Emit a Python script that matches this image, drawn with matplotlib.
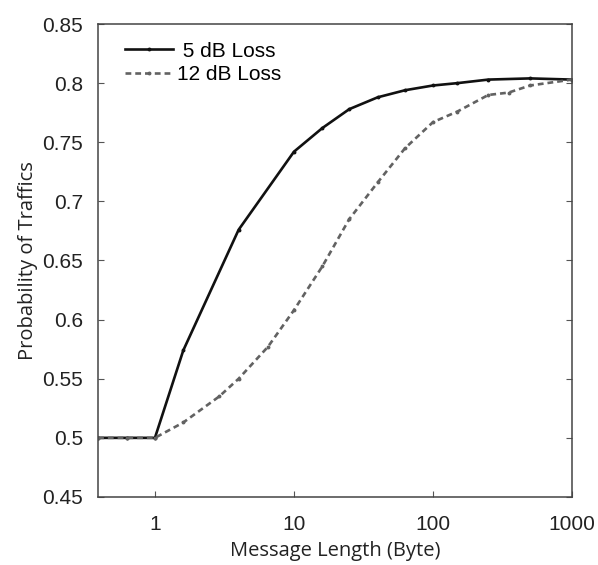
import matplotlib
matplotlib.use("Agg")
import matplotlib.pyplot as plt

# Data
x_5db = [0.39, 0.63, 1, 1.6, 4, 10, 16, 25, 40, 63, 100, 150, 250, 500, 1000]
y_5db = [0.5, 0.5, 0.5, 0.574, 0.676, 0.742, 0.762, 0.778, 0.788, 0.794, 0.798, 0.800, 0.803, 0.804, 0.803]

x_12db = [0.39, 0.63, 1, 1.6, 2.9, 4, 6.5, 10, 16, 25, 40, 63, 100, 150, 250, 350, 500, 1000]
y_12db = [0.5, 0.5, 0.5, 0.513, 0.535, 0.55, 0.577, 0.608, 0.645, 0.685, 0.716, 0.745, 0.767, 0.776, 0.790, 0.792, 0.798, 0.803]

series_labels = [" 5 dB Loss", "12 dB Loss"]
xticks = [1, 10, 100, 1000]
xtick_labels = ["1", "10", "100", "1000"]
yticks = [0.45, 0.5, 0.55, 0.6, 0.65, 0.7, 0.75, 0.8, 0.85]
ytick_labels = ["0.45", "0.5", "0.55", "0.6", "0.65", "0.7", "0.75", "0.8", "0.85"]

fig = plt.figure(figsize=(5.98, 5.65), dpi=100)
ax = fig.add_axes([0.164, 0.1204, 0.7925, 0.8371])

ax.plot(x_5db, y_5db, color="#111111", lw=1.9, marker="o", ms=1.8,
        label=series_labels[0])
ax.plot(x_12db, y_12db, color="#626262", lw=1.9, ls=(0, (2.2, 1.5)), marker="o", ms=1.8,
        label=series_labels[1])

ax.set_xscale("log")
ax.set_xlim(0.39, 1000)
ax.set_ylim(0.45, 0.85)
ax.set_xticks(xticks)
ax.set_xticklabels(xtick_labels, fontfamily="Liberation Sans", fontsize=15, color="#222222")
ax.set_yticks(yticks)
ax.set_yticklabels(ytick_labels, fontfamily="Liberation Sans", fontsize=15, color="#222222")
ax.xaxis.set_minor_locator(matplotlib.ticker.NullLocator())
ax.tick_params(axis="both", direction="in", length=4, width=0.8, color="#555555",
               right=True)
ax.tick_params(axis="x", pad=13)
ax.tick_params(axis="y", pad=11)

for s in ax.spines.values():
    s.set_color("#444444")
    s.set_linewidth(1.1)

ax.set_xlabel("Message Length (Byte)", fontfamily="Open Sans", fontsize=14.5, color="#222222",
              labelpad=5)
ax.set_ylabel("Probability of Traffics", fontfamily="Open Sans", fontsize=14.5, color="#222222",
              labelpad=3)

leg = ax.legend(loc="upper left", frameon=False, prop={"family": "Liberation Sans", "size": 15},
                handlelength=2.3, handletextpad=0.2, labelspacing=0.22,
                borderaxespad=0.45, bbox_to_anchor=(0.02, 1.0))

fig.savefig("out.png", dpi=100, facecolor="white")
